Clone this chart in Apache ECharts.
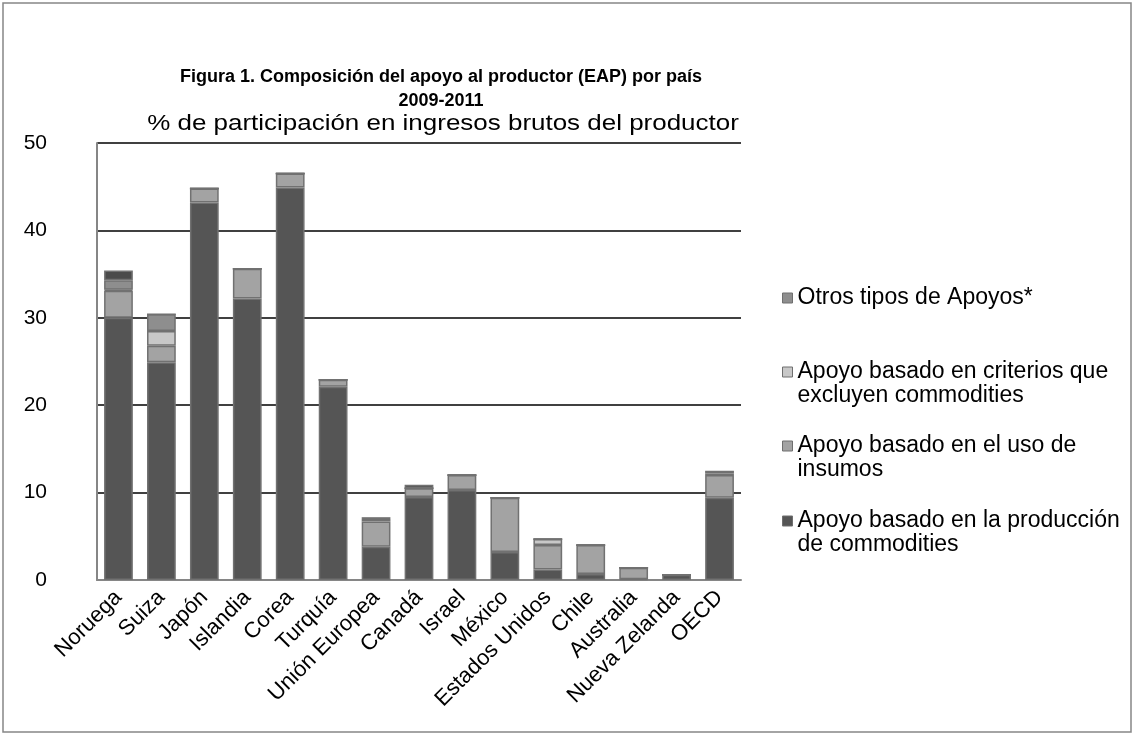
<!DOCTYPE html>
<html><head><meta charset="utf-8">
<script src="https://cdn.jsdelivr.net/npm/echarts@6/dist/echarts.min.js"></script>
<style>html,body{margin:0;padding:0;background:#fff}#c{width:1135px;height:736px}</style>
</head><body><div id="c"></div>
<script>
const categories = ['Noruega','Suiza','Japón','Islandia','Corea','Turquía','Unión Europea','Canadá','Israel','México','Estados Unidos','Chile','Australia','Nueva Zelanda','OECD'];
const produccion = [30.0, 24.9, 43.2, 32.2, 44.9, 22.1, 3.8, 9.5, 10.3, 3.2, 1.2, 0.7, 0.1, 0.6, 9.4];
const insumos    = [3.1, 1.9, 1.6, 3.4, 1.6, 0.8, 2.9, 1.0, 1.7, 6.2, 2.8, 3.3, 1.3, 0.0, 2.6];
const criterios  = [0.1, 1.7, 0, 0, 0, 0, 0.3, 0, 0, 0, 0.7, 0, 0, 0, 0.2];
const otros      = [1.1, 1.9, 0, 0, 0, 0, 0.1, 0, 0, 0, 0, 0, 0, 0, 0.2];
const otrosNoCorr= [1.1, 0, 0, 0, 0, 0, 0, 0.4, 0, 0, 0, 0, 0, 0, 0];
const yTicks = [0, 10, 20, 30, 40, 50];

const names = {
  prod: 'Apoyo basado en la producción\nde commodities',
  ins: 'Apoyo basado en el uso de\ninsumos',
  crit: 'Apoyo basado en criterios que\nexcluyen commodities',
  otr: 'Otros tipos de Apoyos*',
  hid: 'Apoyo basado en producción no corriente'
};
const colors = {prod:'#555555', ins:'#a3a3a3', crit:'#c8c8c8', otr:'#8e8e8e', hid:'#4b4b4b'};
const border = {borderColor:'#717171', borderWidth:1.5};
function ser(key, data){
  return {name:names[key], type:'bar', stack:'t', data:data, barCategoryGap:'33%',
    itemStyle:Object.assign({color:colors[key]}, border), emphasis:{disabled:true}};
}
const font = '"Liberation Sans", Arial, sans-serif';
function leg(key, top, twoLine){
  return {data:[names[key]], orient:'vertical', left:782, top:top, padding:0,
    itemWidth:10, itemHeight:10, selectedMode:false, icon:'rect',
    formatter: twoLine ? function(n){ return '\n' + n; } : '{name}',
    itemStyle:{borderColor:'#6f6f6f', borderWidth:1},
    textStyle:{fontFamily:font, fontSize:23, color:'#000', lineHeight:24}};
}
const chart = echarts.init(document.getElementById('c'), null, {renderer:'canvas'});
chart.setOption({
  animation:false,
  backgroundColor:'#fff',
  graphic:[
    {type:'rect', shape:{x:3,y:3,width:1128,height:729}, style:{fill:'none', stroke:'#868686', lineWidth:1.5}, silent:true},
    {type:'text', x:441, y:77, style:{text:'Figura 1. Composición del apoyo al productor (EAP) por país', font:'bold 18px '+font, fill:'#000', align:'center', verticalAlign:'middle'}},
    {type:'text', x:441, y:101, style:{text:'2009-2011', font:'bold 18px '+font, fill:'#000', align:'center', verticalAlign:'middle'}},
    {type:'text', x:443, y:124, scaleX:1.18, originX:0, originY:0, style:{text:'% de participación en ingresos brutos del productor', font:'22px '+font, fill:'#000', align:'center', verticalAlign:'middle'}}
  ],
  legend:[ leg('otr', 286, false), leg('crit', 336, true), leg('ins', 410, true), leg('prod', 485, true) ],
  grid:{left:97, right:394, top:143, bottom:156, containLabel:false},
  xAxis:{type:'category', data:categories,
    axisLine:{lineStyle:{color:'#868686', width:2}},
    axisTick:{show:false},
    axisLabel:{rotate:45, fontFamily:font, fontSize:22, color:'#000', margin:14, interval:0}},
  yAxis:{type:'value', min:yTicks[0], max:yTicks[yTicks.length-1], interval:10,
    axisLine:{show:true, lineStyle:{color:'#868686', width:2}},
    axisTick:{show:false},
    splitLine:{lineStyle:{color:'#000', width:1.5}},
    axisLabel:{fontFamily:font, fontSize:21, color:'#000', margin:50}},
  series:[ ser('prod', produccion), ser('ins', insumos), ser('crit', criterios), ser('otr', otros), ser('hid', otrosNoCorr) ]
});
</script></body></html>
